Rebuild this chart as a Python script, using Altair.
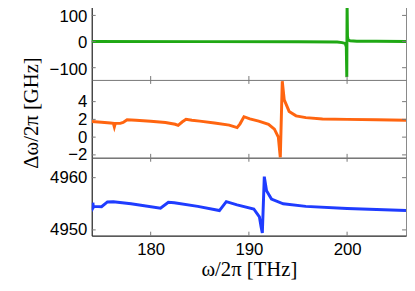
import altair as alt
import pandas as pd

# ---- data ----
x_ticks = [180, 190, 200]

g_freq = [174.0, 185.0, 195.0, 199.0, 199.5, 199.8, 199.92, 199.97, 200.0, 200.04, 200.1, 200.3, 201.0, 203.0, 206.0]
g_shift = [0.0, -0.3, -0.8, -2.0, -4.0, -7.0, -20.0, -136.0, 146.0, 20.0, 7.0, 3.0, 1.5, 0.8, 0.5]
g_ticks = [-100, 0, 100]

o_freq = [174.0, 175.0, 175.9, 176.2, 176.3, 176.4, 176.9, 177.2, 177.6, 178.5, 180.0, 181.5,
          182.5, 182.8, 183.2, 183.6, 184.2, 185.0, 186.5, 188.0, 188.8, 189.1, 189.5, 190.1,
          191.0, 192.0, 192.6, 193.0, 193.2, 193.4, 193.6, 194.1, 194.8, 195.8, 197.5, 200.0,
          203.0, 206.0]
o_shift = [1.75, 1.68, 1.6, 1.55, 1.15, 1.55, 1.55, 1.65, 1.95, 1.9, 1.8, 1.65,
           1.45, 1.33, 1.7, 2.0, 1.9, 1.8, 1.6, 1.35, 1.07, 1.5, 2.3, 2.05,
           1.8, 1.45, 0.9, 0.0, -2.3, 6.3, 4.2, 2.9, 2.4, 2.2, 2.05, 2.0,
           1.95, 1.9]
o_ticks = [-2, 0, 2, 4]

b_freq = [174.0, 174.08, 174.12, 174.16, 174.22, 175.0, 175.6, 176.2, 178.0, 181.0, 181.8,
          182.4, 184.8, 187.0, 187.7, 188.8, 190.5, 191.07, 191.25, 191.37, 191.57, 191.8,
          192.3, 193.5, 195.8, 200.0, 206.0]
b_shift = [4954.5, 4953.9, 4955.2, 4954.3, 4954.5, 4954.45, 4955.35, 4955.4, 4955.0, 4954.15, 4955.3,
           4955.2, 4954.5, 4953.7, 4955.4, 4954.8, 4954.0, 4952.5, 4950.5, 4949.4, 4960.2, 4957.5,
           4955.9, 4955.0, 4954.5, 4954.1, 4953.7]
b_ticks = [4950, 4960]

W = 319
X_DOMAIN = [174, 206]


def panel(freq, shift, color, domain, yticks, h, bottom=False, ytitle="", fmt="",
          title_kw=None, label_offset=0):
    df = pd.DataFrame({"freq": freq, "shift": shift})
    xs = alt.Scale(domain=X_DOMAIN, nice=False, zero=False)
    ys = alt.Scale(domain=domain, nice=False, zero=False)
    xaxis = alt.Axis(values=x_ticks, labels=bottom, title="ω/2π [THz]" if bottom else "",
                     labelPadding=6, titlePadding=1, labelOverlap=False, labelFlush=False)
    yaxis_kw = dict(values=yticks, title=ytitle, labelPadding=5, labelOverlap=False,
                    labelFlush=False, labelOffset=label_offset)
    if fmt:
        yaxis_kw["format"] = fmt
    if title_kw:
        yaxis_kw.update(title_kw)
    yaxis = alt.Axis(**yaxis_kw)
    line = alt.Chart(df).mark_line(color=color, strokeWidth=3, clip=True).encode(
        x=alt.X("freq:Q", scale=xs, axis=xaxis),
        y=alt.Y("shift:Q", scale=ys, axis=yaxis),
    )
    ydf = pd.DataFrame({"shift": yticks})
    xdf = pd.DataFrame({"freq": x_ticks})
    tc = "#777777"
    lt = alt.Chart(ydf).mark_rule(color=tc, strokeWidth=1).encode(
        y=alt.Y("shift:Q", scale=ys, axis=None), x=alt.value(0), x2=alt.value(4))
    rt = alt.Chart(ydf).mark_rule(color=tc, strokeWidth=1).encode(
        y=alt.Y("shift:Q", scale=ys, axis=None), x=alt.value(W - 4), x2=alt.value(W))
    tt = alt.Chart(xdf).mark_rule(color=tc, strokeWidth=1).encode(
        x=alt.X("freq:Q", scale=xs, axis=None), y=alt.value(0), y2=alt.value(4))
    bt = alt.Chart(xdf).mark_rule(color=tc, strokeWidth=1).encode(
        x=alt.X("freq:Q", scale=xs, axis=None), y=alt.value(h - 4), y2=alt.value(h))
    return alt.layer(line, lt, rt, tt, bt).resolve_axis(
        x="independent", y="independent").properties(width=W, height=h)


p1 = panel(g_freq, g_shift, "#1fa814", [-147, 147], g_ticks, 78, label_offset=1.5)
p2 = panel(o_freq, o_shift, "#ff6510", [-2.33, 6.44], o_ticks, 79,
           ytitle="Δω/2π [GHz]",
           title_kw=dict(titleX=-61, titleY=33, titleAngle=270, titleAlign="center",
                         titleBaseline="middle"))
p3 = panel(b_freq, b_shift, "#1f3cff", [4948.9, 4963.8], b_ticks, 79, bottom=True, fmt="d")

chart = alt.vconcat(p1, p2, p3, spacing=0, bounds="flush").properties(
    padding={"left": 12, "top": -8, "right": 0, "bottom": 0}
).configure_axis(
    labelFont="Liberation Sans", labelFontSize=17, labelColor="black",
    domainColor="#222222", domainWidth=1, ticks=False, tickSize=0, grid=False,
    titleFont="Liberation Serif", titleFontSize=21, titleColor="black", titleFontWeight="normal",
).configure_view(stroke="#888888", strokeWidth=1)

chart.save("out.html", embed_options={"renderer": "svg", "actions": False})
